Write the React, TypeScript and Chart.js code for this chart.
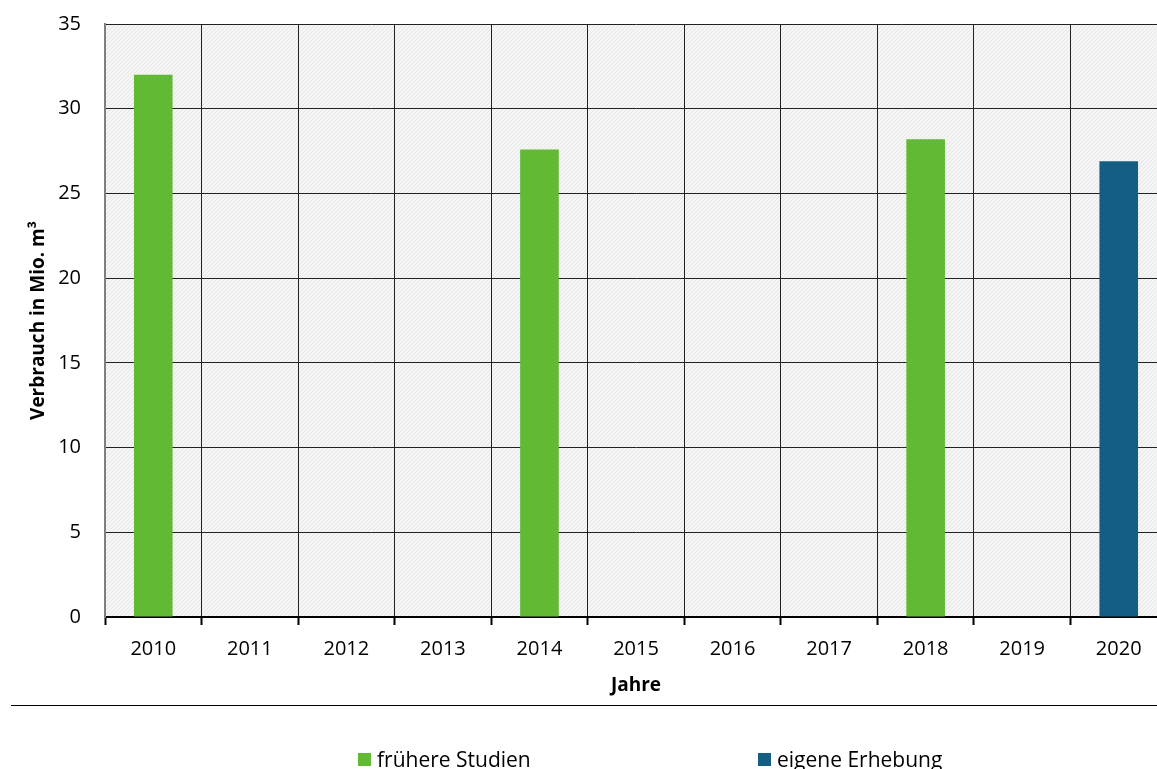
import React, { useEffect, useRef } from "react";
import { Chart, registerables } from "chart.js";

Chart.register(...registerables);

const years = ["2010", "2011", "2012", "2013", "2014", "2015", "2016", "2017", "2018", "2019", "2020"];
const fruehereStudien = [32, null, null, null, 27.6, null, null, null, 28.2, null, null];
const eigeneErhebung = [null, null, null, null, null, null, null, null, null, null, 26.9];
const seriesNames = ["frühere Studien", "eigene Erhebung"];
const seriesColors = ["#62B933", "#145E84"];
const yTicks = [0, 5, 10, 15, 20, 25, 30, 35];

const FONT = "'Open Sans', sans-serif";

function makePattern(): CanvasPattern | string {
  const c = document.createElement("canvas");
  c.width = 4;
  c.height = 4;
  const g = c.getContext("2d");
  if (!g) return "#f2f2f2";
  g.fillStyle = "#f5f5f5";
  g.fillRect(0, 0, 4, 4);
  g.fillStyle = "#e6e6e6";
  for (let i = 0; i < 4; i++) g.fillRect(i, 3 - i, 1, 1);
  const p = g.createPattern(c, "repeat");
  return p || "#f2f2f2";
}

const bgPlugin = {
  id: "bgPlugin",
  beforeDraw(chart: any) {
    const { ctx, chartArea } = chart;
    ctx.save();
    ctx.fillStyle = makePattern();
    ctx.fillRect(chartArea.left, chartArea.top, chartArea.right - chartArea.left, chartArea.bottom - chartArea.top);
    ctx.restore();
  },
  afterDraw(chart: any) {
    const { ctx } = chart;
    ctx.save();
    ctx.strokeStyle = "#000";
    ctx.lineWidth = 1;
    ctx.beginPath();
    ctx.moveTo(11, 705.5);
    ctx.lineTo(chart.width, 705.5);
    ctx.stroke();
    const xs = [358, 758];
    ctx.font = `21px ${FONT}`;
    ctx.textBaseline = "alphabetic";
    ctx.textAlign = "left";
    for (let i = 0; i < seriesNames.length; i++) {
      ctx.fillStyle = seriesColors[i];
      ctx.fillRect(xs[i], 753, 13, 13);
      ctx.fillStyle = "#000";
      ctx.fillText(seriesNames[i], xs[i] + 19, 767);
    }
    ctx.restore();
  },
};

export default function App() {
  const ref = useRef<HTMLCanvasElement | null>(null);
  useEffect(() => {
    if (!ref.current) return;
    const chart = new Chart(ref.current, {
      type: "bar",
      data: {
        labels: years,
        datasets: [
          {
            label: seriesNames[0],
            data: fruehereStudien as any,
            backgroundColor: seriesColors[0],
            categoryPercentage: 1,
            barPercentage: 0.4,
          },
          {
            label: seriesNames[1],
            data: eigeneErhebung as any,
            backgroundColor: seriesColors[1],
            categoryPercentage: 1,
            barPercentage: 0.4,
          },
        ],
      },
      options: {
        animation: false,
        responsive: true,
        maintainAspectRatio: false,
        layout: { padding: { left: 0, right: 0, top: 24, bottom: 64 } },
        plugins: {
          legend: { display: false },
          tooltip: { enabled: false },
          title: { display: false },
        },
        scales: {
          x: {
            stacked: true,
            offset: true,
            grid: {
              display: true,
              offset: true,
              color: "#222",
              lineWidth: 1,
              drawTicks: true,
              tickLength: 8,
              tickColor: "#000",
              tickWidth: 2,
            },
            border: { display: true, color: "#000", width: 2 },
            ticks: { color: "#000", font: { family: FONT, size: 20 }, padding: 12, maxRotation: 0 },
            title: {
              display: true,
              text: "Jahre",
              color: "#000",
              font: { family: FONT, size: 19, weight: "bold" },
              padding: { top: 0, bottom: 8 },
            },
            afterFit(scale: any) {
              scale.height = 88;
              scale.paddingLeft = 0;
              scale.paddingRight = 0;
            },
          },
          y: {
            stacked: true,
            min: 0,
            max: 35,
            afterBuildTicks(scale: any) {
              scale.ticks = yTicks.map((v) => ({ value: v }));
            },
            grid: { color: "#222", lineWidth: 1, drawTicks: false },
            border: { display: true, color: "#7f7f7f", width: 2 },
            ticks: { color: "#000", font: { family: FONT, size: 20 }, padding: 24 },
            title: {
              display: true,
              text: "Verbrauch in Mio. m³",
              color: "#000",
              font: { family: FONT, size: 19, weight: "bold" },
              padding: { top: 27, bottom: 0 },
            },
            afterFit(scale: any) {
              scale.width = 105;
              scale.paddingTop = 0;
              scale.paddingBottom = 0;
            },
          },
        },
      },
      plugins: [bgPlugin],
    });
    return () => chart.destroy();
  }, []);
  return (
    <div style={{ position: "fixed", left: 0, top: 0, width: 1157, height: 769, overflow: "hidden", background: "#fff" }}>
      <div style={{ position: "absolute", left: 0, top: 0, width: 1167, height: 769 }}>
        <canvas ref={ref} />
      </div>
    </div>
  );
}
